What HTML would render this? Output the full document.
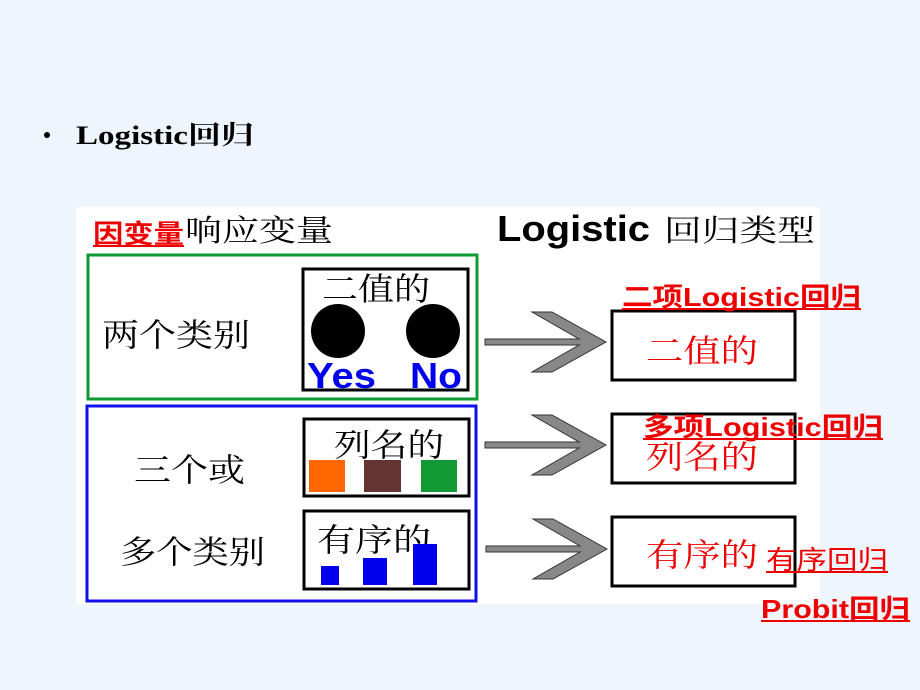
<!DOCTYPE html>
<html><head><meta charset="utf-8"><style>
html,body{margin:0;padding:0}
body{width:920px;height:690px;background:#eef5fc;position:relative;overflow:hidden;font-family:"Liberation Sans","Noto Sans CJK SC",sans-serif}
</style></head><body>
<svg width="920" height="690" style="position:absolute;left:0;top:0" font-family="Liberation Sans, Noto Sans CJK SC, sans-serif">
<rect x="76" y="207" width="744" height="397" fill="#fff"/>
<circle cx="47" cy="135" r="3" fill="#000"/>
<text x="76" y="144" font-family="Liberation Serif, Noto Serif CJK SC, serif" font-weight="bold" font-size="26" textLength="178" lengthAdjust="spacingAndGlyphs">Logistic回归</text>
<text x="93" y="243" font-size="26" font-weight="bold" fill="#e00" textLength="91" lengthAdjust="spacingAndGlyphs">因变量</text>
<line x1="93" y1="246" x2="184" y2="246" stroke="#e00" stroke-width="2"/>
<text x="185" y="241" font-size="30" font-family="Noto Serif CJK SC, serif" textLength="148" lengthAdjust="spacingAndGlyphs">响应变量</text>
<text x="497" y="241" font-size="36" font-weight="bold" textLength="153" lengthAdjust="spacingAndGlyphs">Logistic</text>
<text x="664" y="241" font-size="30" font-family="Noto Serif CJK SC, serif" textLength="151" lengthAdjust="spacingAndGlyphs">回归类型</text>
<rect x="88" y="255" width="389" height="144" fill="none" stroke="#119933" stroke-width="3"/>
<rect x="87" y="406" width="389" height="195" fill="none" stroke="#1010ee" stroke-width="3"/>
<g font-size="32" font-family="Noto Serif CJK SC, serif">
<text x="102" y="346" textLength="148" lengthAdjust="spacingAndGlyphs">两个类别</text>
<text x="134" y="481" textLength="111" lengthAdjust="spacingAndGlyphs">三个或</text>
<text x="120" y="563" textLength="145" lengthAdjust="spacingAndGlyphs">多个类别</text>
<text x="322" y="300" textLength="108" lengthAdjust="spacingAndGlyphs">二值的</text>
<text x="334" y="456" textLength="110" lengthAdjust="spacingAndGlyphs">列名的</text>
<text x="317" y="551" textLength="114" lengthAdjust="spacingAndGlyphs">有序的</text>
</g>
<rect x="303" y="269" width="165" height="121" fill="none" stroke="#000" stroke-width="3"/>
<circle cx="338" cy="331" r="27" fill="#000"/>
<circle cx="433" cy="331" r="27" fill="#000"/>
<text x="307" y="388" font-size="36" font-weight="bold" fill="#0000ee" textLength="69" lengthAdjust="spacingAndGlyphs">Yes</text>
<text x="410" y="388" font-size="36" font-weight="bold" fill="#0000ee" textLength="52" lengthAdjust="spacingAndGlyphs">No</text>
<rect x="304" y="419" width="165" height="77" fill="none" stroke="#000" stroke-width="3"/>
<rect x="309" y="460" width="36" height="32" fill="#ff6600"/>
<rect x="364" y="460" width="37" height="32" fill="#663333"/>
<rect x="421" y="460" width="36" height="32" fill="#119933"/>
<rect x="304" y="511" width="165" height="78" fill="none" stroke="#000" stroke-width="3"/>
<rect x="321" y="566" width="18" height="19" fill="#0000ee"/>
<rect x="363" y="558" width="24" height="27" fill="#0000ee"/>
<rect x="413" y="544" width="24" height="41" fill="#0000ee"/>
<g fill="#888" stroke="#333" stroke-width="1">
<path d="M485,339 H579 L532,312 H552 L606,342 L552,372 H532 L579,345 H485 Z"/>
<path d="M485,442 H579 L532,415 H552 L606,445 L552,475 H532 L579,448 H485 Z"/>
<path d="M486,546 H580 L533,519 H553 L607,549 L553,579 H533 L580,552 H486 Z"/>
</g>
<rect x="612" y="311" width="183" height="69" fill="#fff" stroke="#000" stroke-width="3"/>
<rect x="612" y="414" width="183" height="69" fill="#fff" stroke="#000" stroke-width="3"/>
<rect x="612" y="517" width="183" height="69" fill="#fff" stroke="#000" stroke-width="3"/>
<g fill="#e00" font-family="Noto Serif CJK SC, serif" font-size="32">
<text x="646" y="362" textLength="112" lengthAdjust="spacingAndGlyphs">二值的</text>
<text x="646" y="468" textLength="112" lengthAdjust="spacingAndGlyphs">列名的</text>
<text x="646" y="566" textLength="112" lengthAdjust="spacingAndGlyphs">有序的</text>
</g>
<g fill="#e00" font-size="26" font-weight="bold">
<text x="622" y="306" textLength="239" lengthAdjust="spacingAndGlyphs">二项Logistic回归</text>
<text x="643" y="436" textLength="240" lengthAdjust="spacingAndGlyphs">多项Logistic回归</text>
<text x="766" y="569" font-weight="normal" textLength="122" lengthAdjust="spacingAndGlyphs">有序回归</text>
<text x="761" y="618" textLength="149" lengthAdjust="spacingAndGlyphs">Probit回归</text>
</g>
<g stroke="#e00" stroke-width="2">
<line x1="622" y1="309" x2="861" y2="309"/>
<line x1="643" y1="439" x2="883" y2="439"/>
<line x1="766" y1="572" x2="888" y2="572"/>
<line x1="761" y1="621" x2="910" y2="621"/>
</g>
</svg>
</body></html>
